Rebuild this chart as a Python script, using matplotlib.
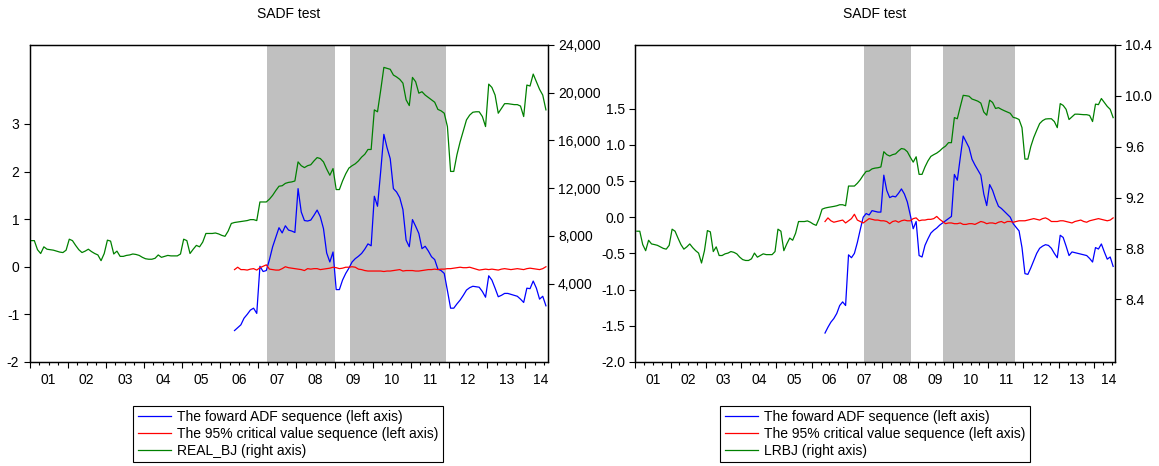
import numpy as np
import matplotlib.pyplot as plt
from matplotlib.ticker import FixedLocator, FuncFormatter, FormatStrFormatter

plt.rcParams['font.family'] = ['Liberation Sans', 'DejaVu Sans']
plt.rcParams['font.size'] = 10
plt.rcParams['axes.unicode_minus'] = False

# monthly data, 2001M01 .. 2014M07
year_labels = ['01', '02', '03', '04', '05', '06', '07', '08', '09', '10', '11', '12', '13', '14']
adf_start = 64  # ADF sequences start 2006M05

real_bj = [
    7600, 7600, 6840, 6520, 7080, 6880, 6840, 6800, 6720, 6640, 6600, 6800,
    7720, 7600, 7200, 6840, 6600, 6720, 6880, 6680, 6520, 6400, 5920, 6520,
    7640, 7560, 6480, 6720, 6280, 6280, 6360, 6400, 6480, 6440, 6360, 6200,
    6080, 6040, 6040, 6120, 6400, 6200, 6280, 6360, 6320, 6320, 6320, 6480,
    7720, 7600, 6520, 6880, 7200, 7080, 7480, 8200, 8200, 8200, 8240, 8160,
    8040, 7960, 8400, 9040, 9120, 9160, 9200, 9240, 9280, 9360, 9360, 9280,
    10840, 10840, 10840, 11080, 11400, 11800, 12160, 12200, 12400, 12480, 12520, 12600,
    14200, 13880, 13720, 13880, 13960, 14280, 14560, 14480, 14200, 13600, 13080, 13640,
    11880, 11880, 12600, 13200, 13680, 13880, 14040, 14280, 14600, 14840, 15240, 15240,
    18560, 18400, 20200, 22120, 22040, 21960, 21480, 21320, 21120, 20800, 19400, 18920,
    21280, 20920, 19960, 20080, 19800, 19600, 19400, 19200, 18600, 18480, 18280, 17160,
    13400, 13400, 14800, 15880, 16800, 17720, 18120, 18360, 18400, 18400, 18000, 17160,
    20720, 20440, 19800, 18280, 18680, 19080, 19080, 19040, 19000, 19000, 18880, 18000,
    20640, 20560, 21560, 20920, 20280, 19800, 18560,
]

lrbj = [
    8.936, 8.936, 8.831, 8.783, 8.865, 8.836, 8.831, 8.825, 8.813, 8.801, 8.795, 8.825,
    8.952, 8.936, 8.882, 8.831, 8.795, 8.813, 8.836, 8.807, 8.783, 8.764, 8.686, 8.783,
    8.941, 8.931, 8.776, 8.813, 8.745, 8.745, 8.758, 8.764, 8.776, 8.770, 8.758, 8.732,
    8.713, 8.706, 8.706, 8.719, 8.764, 8.732, 8.745, 8.758, 8.752, 8.752, 8.752, 8.776,
    8.952, 8.936, 8.783, 8.836, 8.882, 8.865, 8.920, 9.012, 9.012, 9.012, 9.017, 9.007,
    8.992, 8.982, 9.036, 9.109, 9.118, 9.123, 9.127, 9.131, 9.136, 9.144, 9.144, 9.136,
    9.291, 9.291, 9.291, 9.313, 9.341, 9.376, 9.406, 9.409, 9.426, 9.432, 9.435, 9.441,
    9.561, 9.538, 9.527, 9.538, 9.544, 9.567, 9.586, 9.581, 9.561, 9.518, 9.479, 9.521,
    9.383, 9.383, 9.441, 9.488, 9.524, 9.538, 9.550, 9.567, 9.589, 9.605, 9.632, 9.632,
    9.829, 9.820, 9.914, 10.004, 10.001, 9.997, 9.975, 9.967, 9.958, 9.943, 9.873, 9.848,
    9.966, 9.948, 9.901, 9.907, 9.894, 9.883, 9.873, 9.863, 9.831, 9.825, 9.814, 9.750,
    9.503, 9.503, 9.602, 9.673, 9.729, 9.782, 9.805, 9.818, 9.820, 9.820, 9.798, 9.750,
    9.939, 9.925, 9.894, 9.814, 9.835, 9.856, 9.856, 9.854, 9.852, 9.852, 9.846, 9.798,
    9.935, 9.931, 9.979, 9.948, 9.917, 9.894, 9.829,
]

adf_left = [
    -1.34, -1.28, -1.22, -1.08, -1.00, -0.91, -0.87, -0.98, 0.01, -0.10,
    -0.08, 0.15, 0.42, 0.62, 0.82, 0.71, 0.86, 0.77, 0.75, 0.72,
    1.64, 1.15, 0.97, 0.96, 0.98, 1.08, 1.19, 1.05, 0.80, 0.29,
    0.10, 0.31, -0.48, -0.48, -0.28, -0.14, -0.03, 0.10, 0.17, 0.22,
    0.28, 0.37, 0.48, 0.44, 1.48, 1.27, 2.00, 2.78, 2.50, 2.27,
    1.64, 1.57, 1.45, 1.20, 0.56, 0.42, 0.99, 0.85, 0.70, 0.38,
    0.43, 0.33, 0.21, 0.15, -0.05, -0.08, -0.14, -0.50, -0.87, -0.87,
    -0.78, -0.70, -0.60, -0.49, -0.44, -0.41, -0.42, -0.43, -0.52, -0.64,
    -0.19, -0.28, -0.45, -0.63, -0.60, -0.56, -0.56, -0.58, -0.60, -0.62,
    -0.68, -0.75, -0.45, -0.46, -0.30, -0.45, -0.68, -0.62, -0.82,
]
cv_left = [
    -0.06, -0.01, -0.06, -0.06, -0.07, -0.05, -0.04, -0.07, -0.02, 0.01,
    0.04, -0.05, -0.06, -0.07, -0.07, -0.04, 0.00, -0.02, -0.03, -0.04,
    -0.05, -0.06, -0.08, -0.04, -0.05, -0.04, -0.04, -0.06, -0.05, -0.04,
    -0.03, -0.01, -0.02, -0.04, -0.03, -0.01, -0.01, 0.00, -0.01, -0.05,
    -0.06, -0.08, -0.09, -0.09, -0.09, -0.09, -0.09, -0.10, -0.09, -0.09,
    -0.08, -0.07, -0.06, -0.09, -0.08, -0.08, -0.08, -0.09, -0.09, -0.08,
    -0.07, -0.06, -0.06, -0.05, -0.06, -0.05, -0.05, -0.04, -0.04, -0.03,
    -0.02, -0.01, -0.02, -0.02, -0.01, -0.03, -0.05, -0.07, -0.06, -0.05,
    -0.06, -0.05, -0.06, -0.07, -0.05, -0.04, -0.05, -0.06, -0.05, -0.04,
    -0.05, -0.06, -0.04, -0.03, -0.04, -0.05, -0.06, -0.04, 0.00,
]

adf_right = [
    -1.60, -1.52, -1.45, -1.40, -1.33, -1.22, -1.17, -1.22, -0.52, -0.56,
    -0.50, -0.35, -0.17, 0.00, 0.05, 0.03, 0.09, 0.08, 0.07, 0.07,
    0.58, 0.37, 0.27, 0.29, 0.28, 0.33, 0.39, 0.32, 0.21, 0.03,
    -0.16, -0.06, -0.53, -0.55, -0.39, -0.30, -0.22, -0.18, -0.15, -0.11,
    -0.08, -0.05, -0.02, 0.01, 0.59, 0.51, 0.82, 1.12, 1.04, 0.96,
    0.80, 0.72, 0.65, 0.58, 0.32, 0.16, 0.45, 0.37, 0.25, 0.15,
    0.12, 0.08, 0.04, 0.00, -0.09, -0.14, -0.19, -0.42, -0.78, -0.79,
    -0.70, -0.60, -0.50, -0.43, -0.40, -0.38, -0.39, -0.43, -0.50, -0.56,
    -0.25, -0.28, -0.40, -0.53, -0.48, -0.49, -0.50, -0.51, -0.52, -0.53,
    -0.57, -0.62, -0.42, -0.44, -0.37, -0.48, -0.58, -0.55, -0.68,
]
cv_right = [
    -0.06, -0.01, -0.05, -0.07, -0.06, -0.05, -0.04, -0.08, -0.05, -0.02,
    0.04, -0.04, -0.06, -0.08, -0.05, -0.02, -0.03, -0.04, -0.04, -0.05,
    -0.05, -0.06, -0.09, -0.06, -0.05, -0.07, -0.05, -0.04, -0.05, -0.05,
    -0.02, -0.01, -0.05, -0.04, -0.04, -0.03, -0.03, -0.02, 0.01, -0.03,
    -0.06, -0.09, -0.08, -0.08, -0.09, -0.09, -0.08, -0.10, -0.10, -0.09,
    -0.09, -0.10, -0.08, -0.06, -0.07, -0.09, -0.08, -0.08, -0.09, -0.07,
    -0.06, -0.08, -0.06, -0.06, -0.07, -0.06, -0.05, -0.05, -0.05, -0.04,
    -0.03, -0.02, -0.03, -0.04, -0.02, -0.01, -0.03, -0.06, -0.06, -0.06,
    -0.05, -0.05, -0.06, -0.07, -0.08, -0.06, -0.05, -0.04, -0.06, -0.07,
    -0.05, -0.04, -0.03, -0.02, -0.03, -0.04, -0.05, -0.04, -0.01,
]

# shaded periods (month index on the axis)
shade_left = [(74.7, 96.0), (100.7, 131.0)]
shade_right = [(77.6, 93.9), (104.8, 129.0)]

legend_left = ['The foward ADF sequence (left axis)',
               'The 95% critical value sequence (left axis)',
               'REAL_BJ (right axis)']
legend_right = ['The foward ADF sequence (left axis)',
                'The 95% critical value sequence (left axis)',
                'LRBJ (right axis)']

n_obs = len(real_bj)

fig = plt.figure(figsize=(11.59, 4.66), dpi=100)


def draw_panel(rect, adf, cv, level, shades, lticks, llim, lfmt, rticks, rlim, rfmt):
    ax = fig.add_axes(rect)
    for a, b in shades:
        ax.axvspan(a, b, color='#c0c0c0', lw=0, zorder=0)
    x_lvl = np.arange(len(level)) + 0.5
    x_adf = np.arange(len(adf)) + adf_start + 0.5
    l1, = ax.plot(x_adf, adf, color='#0000ff', lw=0.9)
    l2, = ax.plot(x_adf, cv, color='#ff0000', lw=0.9)
    ax.set_xlim(0, n_obs)
    ax.set_ylim(*llim)
    ax.yaxis.set_major_locator(FixedLocator(lticks))
    ax.yaxis.set_major_formatter(lfmt)

    ax2 = ax.twinx()
    l3, = ax2.plot(x_lvl, level, color='#008000', lw=0.9)
    ax2.set_ylim(*rlim)
    ax2.yaxis.set_major_locator(FixedLocator(rticks))
    ax2.yaxis.set_major_formatter(rfmt)
    ax2.set_xlim(0, n_obs)

    # year boundaries as major ticks, quarters as minor ticks
    ax.set_xticks(np.arange(0, n_obs, 12))
    ax.set_xticks(np.arange(0, n_obs, 3), minor=True)
    ax.set_xticklabels([])
    for k, lab in enumerate(year_labels):
        xc = 12 * k + 6 if k < len(year_labels) - 1 else 161
        ax.text(xc, -0.057, lab, transform=ax.get_xaxis_transform(),
                ha='center', va='center')

    for a in (ax, ax2):
        a.tick_params(axis='both', which='major', direction='out', length=4, width=0.8)
        a.tick_params(axis='x', which='minor', direction='out', length=2.5, width=0.8)
        for s in a.spines.values():
            s.set_linewidth(0.9)
    return ax, [l1, l2, l3]


ax_l, h_l = draw_panel([0.0255, 0.2232, 0.4469, 0.6803], adf_left, cv_left, real_bj,
                       shade_left, [-2, -1, 0, 1, 2, 3], (-2, 4.657),
                       FormatStrFormatter('%d'),
                       [4000, 8000, 12000, 16000, 20000, 24000], (-2573, 24000),
                       FuncFormatter(lambda v, p: f'{v:,.0f}'))
ax_r, h_r = draw_panel([0.5482, 0.2232, 0.4135, 0.6803], adf_right, cv_right, lrbj,
                       shade_right, [-2.0, -1.5, -1.0, -0.5, 0.0, 0.5, 1.0, 1.5], (-2, 2.378),
                       FormatStrFormatter('%.1f'),
                       [8.4, 8.8, 9.2, 9.6, 10.0, 10.4], (7.908, 10.4),
                       FormatStrFormatter('%.1f'))

fig.text(0.2489, 0.97, 'SADF test', ha='center', va='center')
fig.text(0.755, 0.97, 'SADF test', ha='center', va='center')

for handles, labels, cx in ((h_l, legend_left, 0.2485), (h_r, legend_right, 0.755)):
    leg = fig.legend(handles, labels, loc='upper center', bbox_to_anchor=(cx, 0.129),
                     frameon=True, fancybox=False, framealpha=1, edgecolor='black',
                     handlelength=2.4, handletextpad=0.45, labelspacing=0.22,
                     borderpad=0.3, borderaxespad=0, fontsize=10)
    leg.get_frame().set_linewidth(0.8)

fig.savefig('out.png', dpi=100)
